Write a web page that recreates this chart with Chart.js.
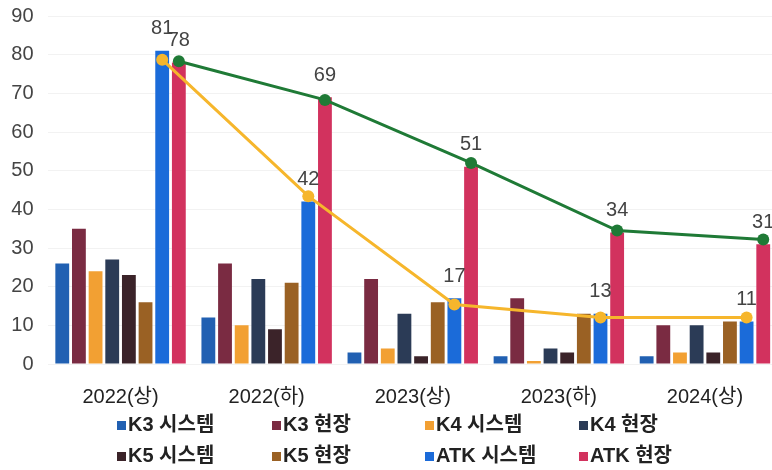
<!DOCTYPE html>
<html><head><meta charset="utf-8">
<script src="https://cdn.jsdelivr.net/npm/chart.js@4"></script>
<style>
html,body{margin:0;padding:0;background:#fff;overflow:hidden;width:772px;height:470px;position:relative}
#wrap{position:absolute;left:0;top:-10px;width:784px;height:440px}
#legend{position:absolute;left:0;top:0;width:772px;height:470px;pointer-events:none}
.item{position:absolute;font:bold 20px "Liberation Sans","Noto Sans CJK KR",sans-serif;color:#222;white-space:nowrap;line-height:20px;height:20px;transform:translateY(-50%)}
.sw{display:inline-block;width:9px;height:9px;margin-right:2px;vertical-align:1px}
</style></head>
<body>
<div id="wrap"><canvas id="c" width="784" height="440"></canvas></div>
<div id="legend"></div>
<script>
const categories = ['2022(상)','2022(하)','2023(상)','2023(하)','2024(상)'];
const seriesNames = ['K3 시스템','K3 현장','K4 시스템','K4 현장','K5 시스템','K5 현장','ATK 시스템','ATK 현장'];
const k3System = [26, 12, 3, 2, 2];
const k3Field  = [35, 26, 22, 17, 10];
const k4System = [24, 10, 4, 0.8, 3];
const k4Field  = [27, 22, 13, 4, 10];
const k5System = [23, 9, 2, 3, 3];
const k5Field  = [16, 21, 16, 13, 11];
const atkSystem = [81, 42, 17, 13, 11];
const atkField  = [78, 69, 51, 34, 31];
const atkSystemTrend = [78.7, 43.4, 15.4, 12, 12];
const atkFieldTrend  = [78.3, 68.3, 52, 34.5, 32.2];
const yTicks = [0,10,20,30,40,50,60,70,80,90];

const colors = ['#2160b2','#7a2b42','#f2a033','#2b3b56','#3b2329','#9a6124','#1b6bd9','#d2325e'];
const barValues = [k3System,k3Field,k4System,k4Field,k5System,k5Field,atkSystem,atkField];

const datasets = barValues.map((vals,i)=>({
  type:'bar', label:seriesNames[i], data:vals, backgroundColor:colors[i],
  barPercentage:0.83, categoryPercentage:0.912, order:1
}));
datasets.push({type:'line', label:'ATK 시스템 추이', data:atkSystemTrend, barRef:6,
  borderColor:'#f6b62c', backgroundColor:'#f6b62c', borderWidth:3, pointRadius:6, pointBorderWidth:0, tension:0, order:0});
datasets.push({type:'line', label:'ATK 현장 추이', data:atkFieldTrend, barRef:7,
  borderColor:'#1f7a36', backgroundColor:'#1f7a36', borderWidth:3, pointRadius:6, pointBorderWidth:0, tension:0, order:0});

const labelSets = [6,7];

const alignPlugin = {
  id:'alignLines',
  afterDatasetsUpdate(chart){
    chart.data.datasets.forEach((ds,i)=>{
      if(ds.type==='line' && ds.barRef!=null){
        const bm = chart.getDatasetMeta(ds.barRef);
        const lm = chart.getDatasetMeta(i);
        lm.data.forEach((pt,j)=>{ if(bm.data[j]) pt.x = bm.data[j].x; });
      }
    });
  },
  afterDatasetsDraw(chart){
    const ctx = chart.ctx;
    ctx.save();
    ctx.font = '20px "Liberation Sans", "Noto Sans", sans-serif';
    ctx.fillStyle = '#444';
    ctx.textAlign = 'center';
    ctx.textBaseline = 'middle';
    labelSets.forEach(idx=>{
      const m = chart.getDatasetMeta(idx);
      m.data.forEach((b,j)=>{ ctx.fillText(String(chart.data.datasets[idx].data[j]), b.x, b.y-22); });
    });
    ctx.restore();
  }
};

new Chart(document.getElementById('c'), {
  data:{labels:categories, datasets},
  options:{
    responsive:false, animation:false,
    layout:{padding:{top:0,right:0,left:0,bottom:0}},
    plugins:{legend:{display:false}, tooltip:{enabled:false}},
    scales:{
      x:{grid:{display:false, drawTicks:false}, border:{display:false},
         ticks:{font:{size:20, family:'"Liberation Sans","Noto Sans CJK KR",sans-serif'}, color:'#222', padding:21}},
      y:{min:0, max:90, afterBuildTicks(s){ s.ticks = yTicks.map(v=>({value:v})); },
         grid:{color:'rgba(0,0,0,0.05)', drawTicks:false}, border:{display:false},
         ticks:{font:{size:20, family:'"Liberation Sans",sans-serif'}, color:'#444', padding:14},
         afterFit(s){ s.width = 47.5; }}
    }
  },
  plugins:[alignPlugin]
});

// HTML legend built from dataset labels/colors
const legendPos = [[117,424],[272,424],[425,424],[579,424],[117,455],[272,455],[425,455],[579,455]];
const lg = document.getElementById('legend');
seriesNames.forEach((name,i)=>{
  const d = document.createElement('div');
  d.className='item';
  d.style.left = legendPos[i][0]+'px';
  d.style.top = legendPos[i][1]+'px';
  const sw = document.createElement('span'); sw.className='sw'; sw.style.background = colors[i];
  d.appendChild(sw);
  d.appendChild(document.createTextNode(name));
  lg.appendChild(d);
});
</script>
</body></html>
